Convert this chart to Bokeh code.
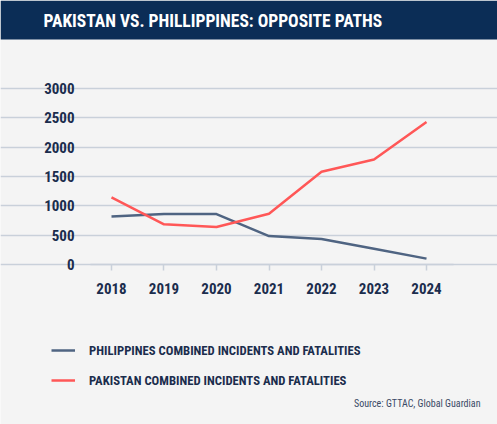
from bokeh.plotting import figure
from bokeh.models import Range1d, Label, Legend, LegendItem, FixedTicker, BoxAnnotation
from bokeh.embed import file_html
from bokeh.resources import INLINE

# data
years = [2018, 2019, 2020, 2021, 2022, 2023, 2024]
philippines = [820, 860, 860, 485, 435, 268, 100]
pakistan = [1145, 685, 640, 865, 1580, 1790, 2430]
y_ticks = [0, 500, 1000, 1500, 2000, 2500, 3000]

title_text = "PAKISTAN VS. PHILLIPPINES: OPPOSITE PATHS"
source_text = "Source: GTTAC, Global Guardian"
ph_name = "PHILIPPINES COMBINED INCIDENTS AND FATALITIES"
pk_name = "PAKISTAN COMBINED INCIDENTS AND FATALITIES"

NAVY = "#0b2d56"
TEXT = "#1b2d4d"
BG = "#f4f4f4"
GRID = "#c9d0da"
RED = "#ff5757"
SLATE = "#4f6482"
FONT = "Roboto Condensed"

W, H = 497, 424

# frame covers the whole canvas, axes are pinned inside it
p = figure(width=W, height=H, output_backend="svg", toolbar_location=None,
           x_range=Range1d(2015.886, 2025.352), y_range=Range1d(-2727, 4500),
           min_border=0)
p.background_fill_color = BG
p.border_fill_color = BG
p.outline_line_color = None

p.xgrid.visible = False
p.ygrid.ticker = FixedTicker(ticks=y_ticks)
p.ygrid.grid_line_color = GRID
p.ygrid.grid_line_width = 1.5
p.ygrid.bounds = (2017.6, 2024.514)

p.yaxis.fixed_location = 2017.6
p.yaxis.ticker = FixedTicker(ticks=y_ticks)
p.yaxis.axis_line_color = None
p.yaxis.major_tick_line_color = None
p.yaxis.major_tick_out = 0
p.yaxis.major_tick_in = 0
p.yaxis.minor_tick_line_color = None
p.yaxis.major_label_standoff = 16

p.xaxis.fixed_location = 0
p.xaxis.bounds = (2017.6, 2024.514)
p.xaxis.ticker = FixedTicker(ticks=years)
p.xaxis.axis_line_color = GRID
p.xaxis.axis_line_width = 1.5
p.xaxis.major_tick_line_color = GRID
p.xaxis.major_tick_line_width = 1.5
p.xaxis.major_tick_out = 6
p.xaxis.major_tick_in = 0
p.xaxis.minor_tick_line_color = None
p.xaxis.major_label_standoff = 12

for ax in (p.xaxis, p.yaxis):
    ax.major_label_text_font = FONT
    ax.major_label_text_font_style = "bold"
    ax.major_label_text_font_size = "15px"
    ax.major_label_text_color = TEXT

r_ph = p.line(years, philippines, color=SLATE, line_width=2.5)
r_pk = p.line(years, pakistan, color=RED, line_width=2.5)

# title banner
p.add_layout(BoxAnnotation(left=0, right=W, bottom=H - 39, top=H,
                           left_units="screen", right_units="screen",
                           bottom_units="screen", top_units="screen",
                           fill_color=NAVY, fill_alpha=1, line_color=None))
p.add_layout(Label(x=43, y=H - 20, x_units="screen", y_units="screen", text=title_text,
                   text_color="white", text_font=FONT, text_font_style="bold",
                   text_font_size="17.5px", text_baseline="middle"))

legend = Legend(items=[LegendItem(label=ph_name, renderers=[r_ph]),
                       LegendItem(label=pk_name, renderers=[r_pk])],
                location=(51, 34), glyph_width=24, glyph_height=20, label_height=20,
                spacing=10, padding=0, margin=0, label_standoff=14,
                background_fill_alpha=0, border_line_color=None,
                label_text_font=FONT, label_text_font_style="bold",
                label_text_font_size="12.7px", label_text_color=TEXT)
p.add_layout(legend)

p.add_layout(Label(x=480, y=21, x_units="screen", y_units="screen", text=source_text,
                   text_align="right", text_baseline="middle", text_font=FONT,
                   text_font_size="10px", text_color="#3a4a66"))

open("out.html", "w").write(file_html(p, INLINE))
